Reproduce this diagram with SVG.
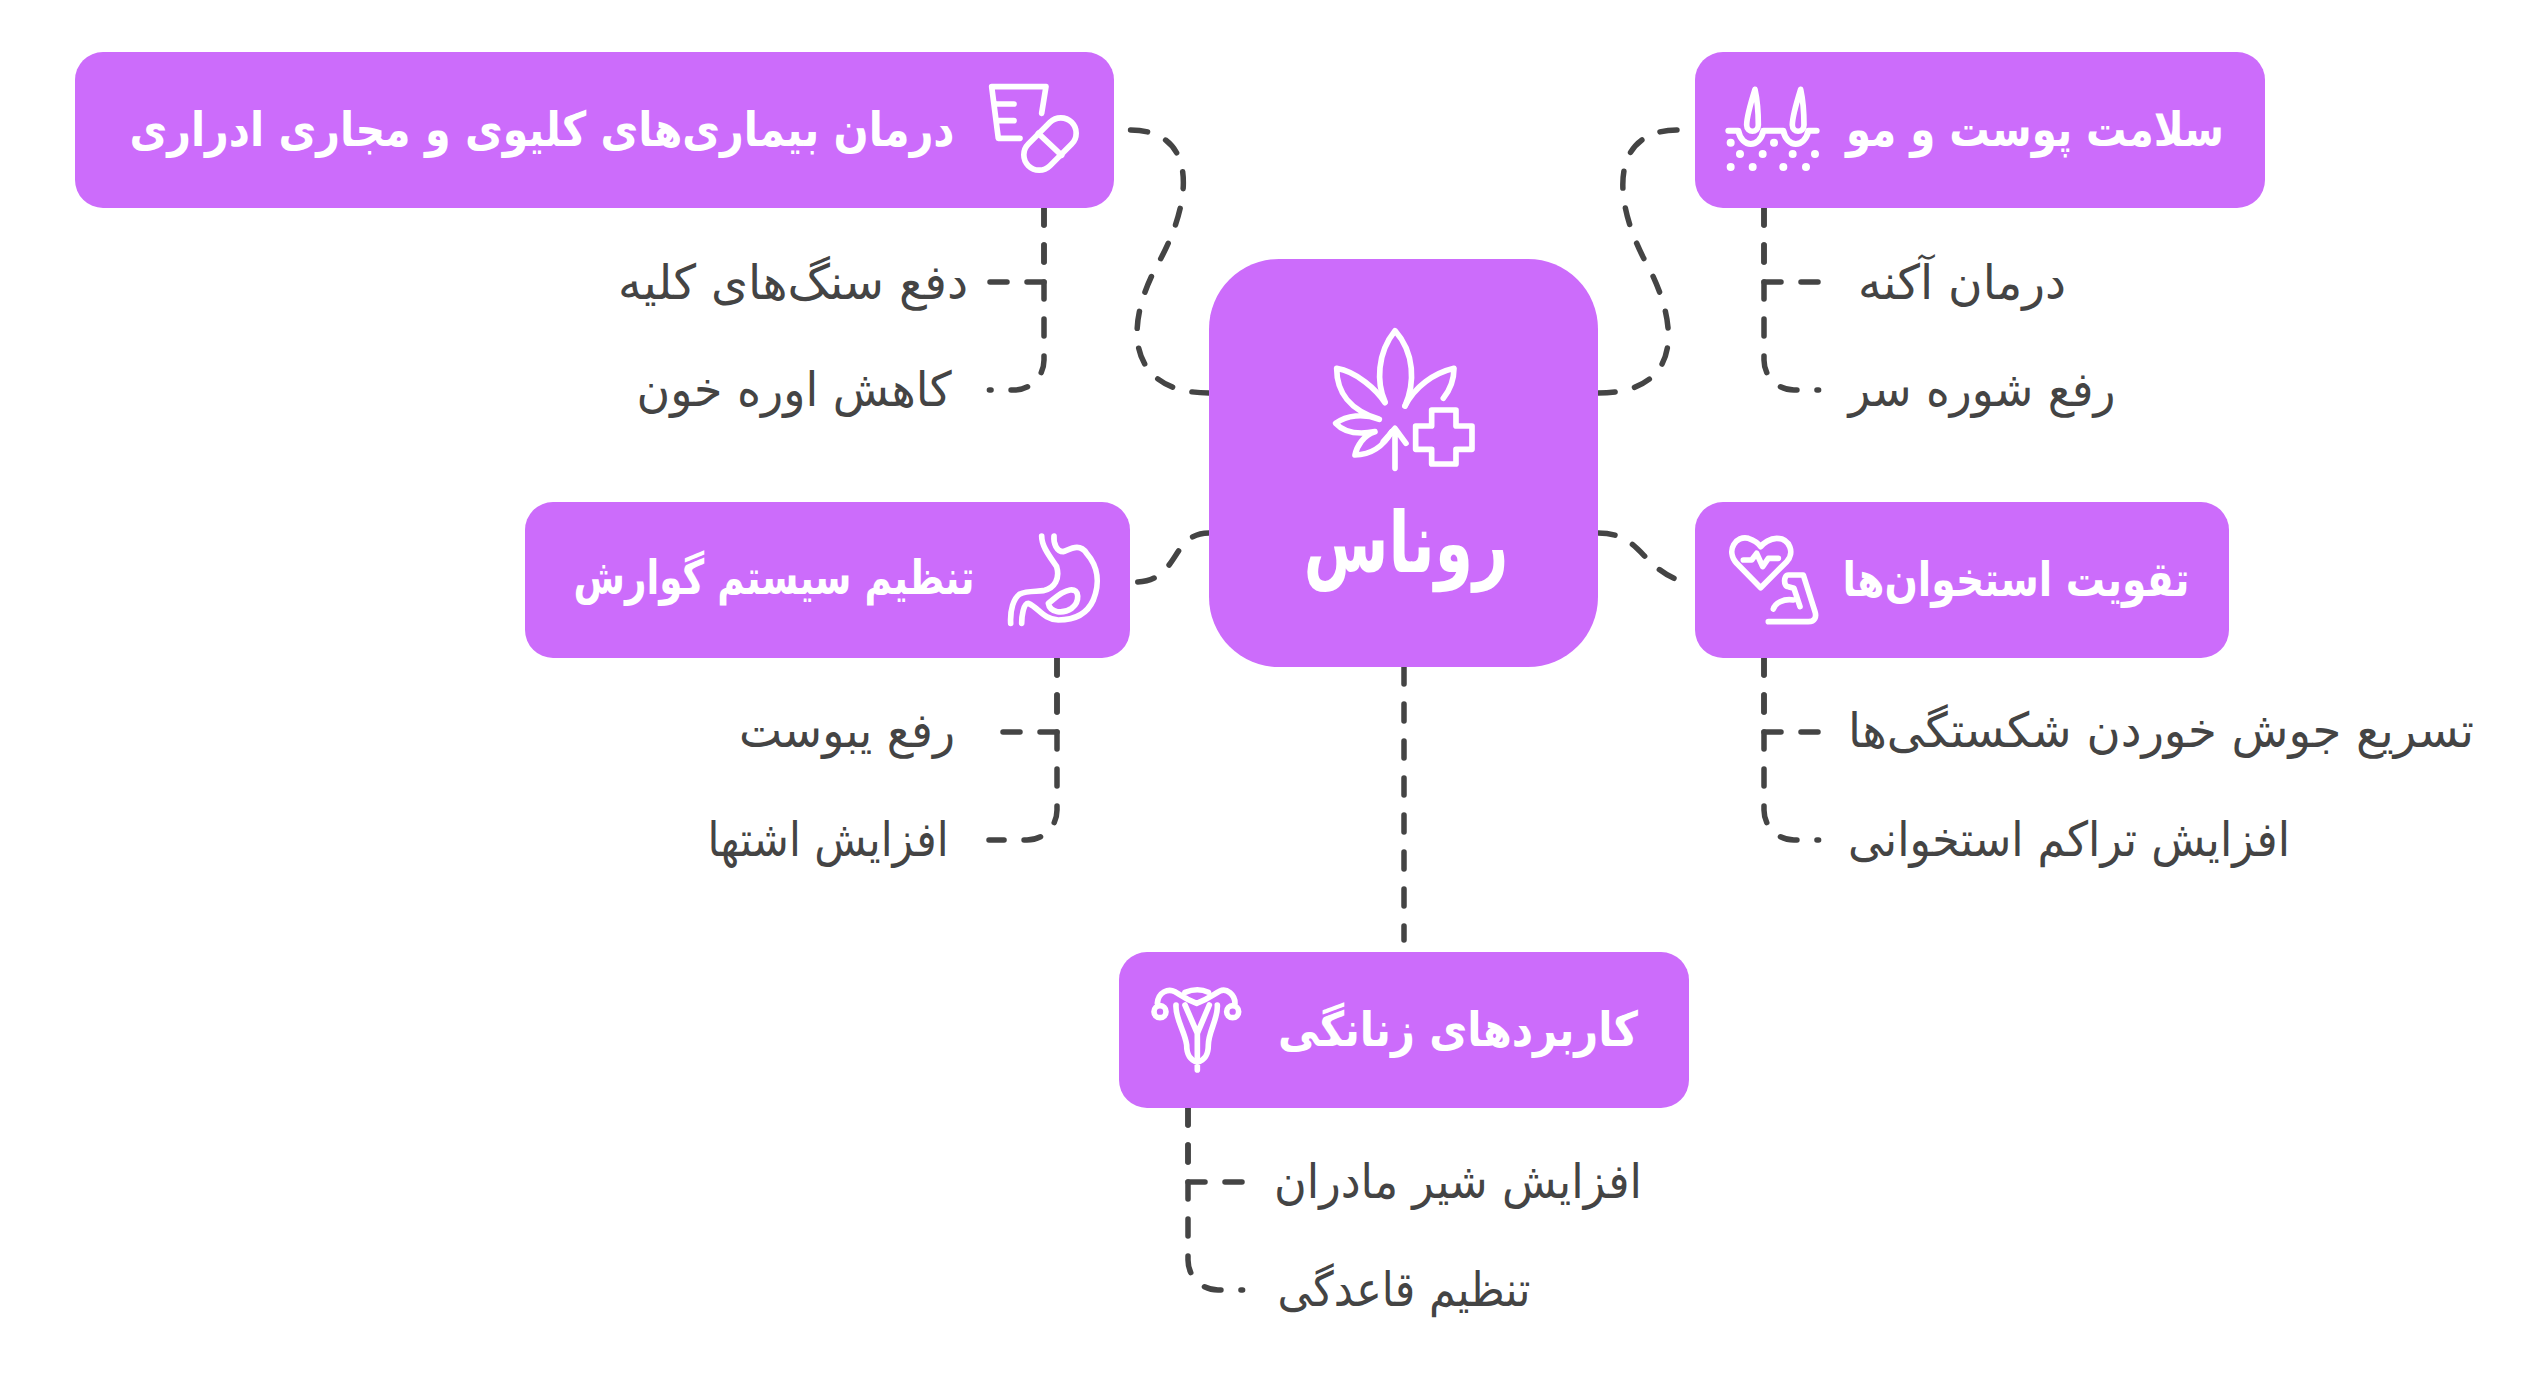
<svg xmlns="http://www.w3.org/2000/svg" width="2536" height="1396" viewBox="0 0 2536 1396">
<style>
.n{fill:#cc6cfb}
.c{fill:none;stroke:#444;stroke-width:5.5;stroke-linecap:round;stroke-linejoin:round;stroke-dasharray:17 20}
.i{fill:none;stroke:#fff;stroke-width:17;stroke-linecap:round;stroke-linejoin:round}
text{font-family:"DejaVu Sans",sans-serif;text-anchor:middle;direction:rtl}
.t{fill:#fff;font-weight:700;font-size:48px}
.s{fill:#444;font-size:48px}
.m{fill:#fff;font-size:84px;font-weight:700}
</style>
<rect width="2536" height="1396" fill="#fff"/>
<g id="connectors">
<path class="c" d="M1209 393C1130 393 1120 330 1160 260C1195 195 1195 130 1130 130"/>
<path class="c" d="M1598 393C1680 393 1680 330 1650 270C1610 200 1610 130 1678 130"/>
<path class="c" d="M1209 533C1170 533 1180 582 1135 582"/>
<path class="c" d="M1598 533C1640 533 1640 565 1678 580"/>
<path class="c" d="M1404 667V940"/>
<path class="c" d="M1044 208V282H990"/><path class="c" d="M1044 208V360A30 30 0 0 1 1014 390H989.4"/>
<path class="c" d="M1764 208V282H1818"/><path class="c" d="M1764 208V360A30 30 0 0 0 1794 390H1818.6"/>
<path class="c" d="M1057 658V732H1003"/><path class="c" d="M1057 658V810A30 30 0 0 1 1027 840H989"/>
<path class="c" d="M1764 658V732H1818"/><path class="c" d="M1764 658V810A30 30 0 0 0 1794 840H1818.6"/>
<path class="c" d="M1188 1108V1182H1242"/><path class="c" d="M1188 1108V1260A30 30 0 0 0 1218 1290H1242.6"/>
</g>
<g id="center"><rect class="n" x="1209" y="259" width="389" height="408" rx="70"/>
<g class="i" transform="translate(1320 320) scale(.3333)">
<path d="M195 245C170 190 170 100 225 32C285 100 285 190 255 258"/>
<path d="M195 248C170 210 110 155 50 145C50 220 90 270 178 298C130 280 80 285 47 310C70 335 110 345 165 335C130 345 110 380 105 405C150 405 190 380 215 335"/>
<path d="M255 258C285 200 340 160 402 145C402 180 390 210 370 235"/>
<path d="M225 445V330M190 365L225 325L258 370"/>
<path d="M335 270H408V318H456V388H408V432H335V388H287V318H335Z"/>
</g>
<text class="m" x="1406" y="572" textLength="205" lengthAdjust="spacingAndGlyphs">روناس</text></g>
<g id="n1"><rect class="n" x="75" y="52" width="1039" height="156" rx="28"/>
<g class="i" transform="translate(970 70) scale(.3333)"><path d="M215 130L228 50H65L85 205H150M80 102H132M85 152H132"/><rect x="-92" y="-46" width="184" height="92" rx="46" transform="translate(240 222) rotate(-45)"/><path d="M205 190L275 256"/></g>
<text class="t" x="542" y="146" textLength="825" lengthAdjust="spacingAndGlyphs">درمان بیماری‌های کلیوی و مجاری ادراری</text></g>
<g id="n2"><rect class="n" x="1695" y="52" width="570" height="156" rx="28"/>
<g class="i" transform="translate(1700 70) scale(.3333)"><path d="M165 58C155 90 140 140 140 165C140 190 175 190 175 165C175 130 172 90 165 58ZM302 58C292 90 277 140 277 165C277 190 312 190 312 165C312 130 309 90 302 58Z"/><path stroke-width="18" d="M85 182H115C125 235 180 235 190 182H250C260 235 315 235 325 182H350"/>
<g fill="#fff" stroke="none"><circle cx="92" cy="218" r="12"/><circle cx="222" cy="218" r="12"/><circle cx="120" cy="252" r="12"/><circle cx="188" cy="252" r="12"/><circle cx="278" cy="252" r="12"/><circle cx="345" cy="252" r="12"/><circle cx="92" cy="291" r="12"/><circle cx="158" cy="291" r="12"/><circle cx="250" cy="291" r="12"/><circle cx="318" cy="291" r="12"/></g></g>
<text class="t" x="2035" y="146" textLength="378" lengthAdjust="spacingAndGlyphs">سلامت پوست و مو</text></g>
<g id="n3"><rect class="n" x="525" y="502" width="605" height="156" rx="28"/>
<g class="i" transform="translate(1000 520) scale(.3333)"><path d="M125 48C125 80 150 110 170 140C180 175 165 205 130 212C110 215 80 212 60 222C40 235 30 270 32 310"/><path d="M162 48C160 70 170 95 190 95C215 85 240 70 260 100C295 140 300 190 280 240C260 285 220 300 175 300C130 298 115 262 85 250C70 250 65 290 65 310"/><path d="M145 250C160 240 180 215 210 210C240 205 240 245 215 265C190 282 150 280 145 250Z"/></g>
<text class="t" x="774" y="594" textLength="401" lengthAdjust="spacingAndGlyphs">تنظیم سیستم گوارش</text></g>
<g id="n4"><rect class="n" x="1695" y="502" width="534" height="156" rx="28"/>
<g class="i" transform="translate(1720 525) scale(.3333)"><path d="M122 188L50 115C15 75 50 30 85 40C100 45 115 55 122 65C130 55 150 40 170 40C210 40 225 85 200 110Z"/><path d="M70 105H95L110 85L128 125L145 100H175"/><path d="M145 290H265C285 290 290 275 285 260L250 150H205C190 150 190 185 205 185L222 190L240 245M160 252C165 235 190 220 220 225"/></g>
<text class="t" x="2016" y="596" textLength="347" lengthAdjust="spacingAndGlyphs">تقویت استخوان‌ها</text></g>
<g id="n5"><rect class="n" x="1119" y="952" width="570" height="156" rx="28"/>
<g class="i" transform="translate(1140 975) scale(.3333)"><circle cx="60" cy="110" r="18"/><circle cx="278" cy="110" r="18"/><path d="M52 85C55 50 85 40 105 50C120 58 130 70 170 85C210 70 220 58 240 48C260 38 285 60 285 85M135 52C160 42 185 42 205 52M108 90C105 130 135 170 140 210C140 240 150 255 172 262C195 255 205 240 205 210C205 170 235 130 232 90M135 90L172 175L208 90M172 175V285"/></g>
<text class="t" x="1458" y="1046" textLength="360" lengthAdjust="spacingAndGlyphs">کاربردهای زنانگی</text></g>
<g id="sub">
<text class="s" x="793" y="299" textLength="350" lengthAdjust="spacingAndGlyphs">دفع سنگ‌های کلیه</text>
<text class="s" x="794" y="406" textLength="315" lengthAdjust="spacingAndGlyphs">کاهش اوره خون</text>
<text class="s" x="1962" y="299" textLength="208" lengthAdjust="spacingAndGlyphs">درمان آکنه</text>
<text class="s" x="1982" y="406" textLength="267" lengthAdjust="spacingAndGlyphs">رفع شوره سر</text>
<text class="s" x="847" y="747" textLength="216" lengthAdjust="spacingAndGlyphs">رفع یبوست</text>
<text class="s" x="828" y="856" textLength="241" lengthAdjust="spacingAndGlyphs">افزایش اشتها</text>
<text class="s" x="2161" y="747" textLength="626" lengthAdjust="spacingAndGlyphs">تسریع جوش خوردن شکستگی‌ها</text>
<text class="s" x="2069" y="856" textLength="442" lengthAdjust="spacingAndGlyphs">افزایش تراکم استخوانی</text>
<text class="s" x="1458" y="1198" textLength="368" lengthAdjust="spacingAndGlyphs">افزایش شیر مادران</text>
<text class="s" x="1404" y="1306" textLength="253" lengthAdjust="spacingAndGlyphs">تنظیم قاعدگی</text>
</g>
</svg>
